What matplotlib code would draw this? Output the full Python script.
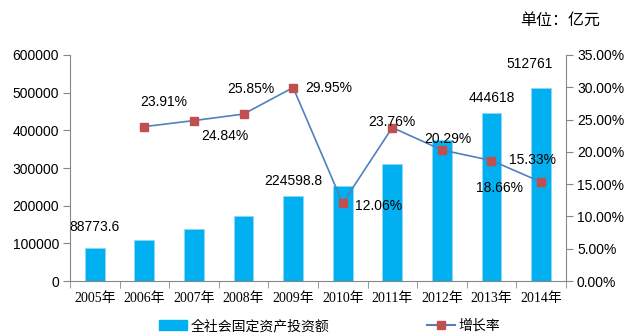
import matplotlib
matplotlib.use("Agg")
import matplotlib.pyplot as plt
from matplotlib.lines import Line2D
from matplotlib.patches import Patch
from matplotlib.ticker import FuncFormatter, FixedLocator

plt.rcParams['font.family'] = ['Liberation Sans', 'Noto Sans CJK SC']

years = ["2005年", "2006年", "2007年", "2008年", "2009年",
         "2010年", "2011年", "2012年", "2013年", "2014年"]
investment = [88773.6, 109998.2, 137323.9, 172828.4, 224598.8,
              251683.8, 311485.1, 374694.7, 444618, 512761]
growth = [None, 23.91, 24.84, 25.85, 29.95, 12.06, 23.76, 20.29, 18.66, 15.33]

# which bars get a value label, and label offsets (points) for the growth line
bar_labels = {0: "88773.6", 4: "224598.8", 8: "444618", 9: "512761"}
bar_offsets = {0: (0, 10), 4: (0, 6), 8: (0, 6), 9: (-8, 12)}
line_offsets = [None, (14, 18), (22, -11), (5, 18), (26, 0), (26, -2),
                (0, 4), (4, 8), (6, -20), (-6, 16)]

bar_color = "#00B0F0"
line_color = "#4F81BD"
marker_color = "#C0504D"
axis_color = "#868686"

fig = plt.figure(figsize=(6.28, 3.35), dpi=100)
ax = fig.add_axes([0.1115, 0.161, 0.7895, 0.675])
ax2 = ax.twinx()

x = list(range(len(years)))
ax.bar(x, investment, width=0.4, color=bar_color, edgecolor="#8FD8F5", linewidth=0.6, zorder=2)
ax.set_ylim(0, 600000)
ax.set_xlim(-0.5, len(years) - 0.5)
ax.set_yticks(range(0, 600001, 100000))

for i, txt in bar_labels.items():
    ax.annotate(txt, (i, investment[i]), xytext=bar_offsets[i], textcoords="offset points",
                ha="center", va="bottom", fontsize=10)

gx = [i for i, g in enumerate(growth) if g is not None]
gy = [g for g in growth if g is not None]
ax2.plot(gx, gy, color=line_color, linewidth=1.2, marker="s", markersize=6,
         markerfacecolor=marker_color, markeredgecolor=marker_color, zorder=3)
ax2.set_ylim(0, 35)
ax2.set_yticks([0, 5, 10, 15, 20, 25, 30, 35])
ax2.yaxis.set_major_formatter(FuncFormatter(lambda v, _: f"{v:.2f}%"))
for i in gx:
    ax2.annotate(f"{growth[i]:.2f}%", (i, growth[i]), xytext=line_offsets[i],
                 textcoords="offset points", ha="center", va="center", fontsize=10, zorder=4)

# category labels without ticks, separator ticks between categories
ax.set_xticks(x)
ax.set_xticklabels(years, family=['Liberation Serif', 'Noto Sans CJK SC'], fontsize=10)
ax.tick_params(axis="x", which="major", length=0, pad=8)
ax.xaxis.set_minor_locator(FixedLocator([i - 0.5 for i in range(len(years) + 1)]))
ax.tick_params(axis="x", which="minor", length=5, color=axis_color, direction="out")

for a in (ax, ax2):
    a.spines["top"].set_visible(False)
    for side in ("left", "right", "bottom"):
        a.spines[side].set_color(axis_color)
    a.tick_params(axis="y", length=5, color=axis_color, labelsize=10, pad=3)
ax2.spines["left"].set_visible(False)
ax.spines["right"].set_visible(False)
ax2.spines["bottom"].set_visible(False)

fig.text(0.955, 0.94, "单位：亿元", ha="right", va="center", fontsize=11.5,
         family=['Noto Sans CJK SC'])

handles = [Patch(facecolor=bar_color, edgecolor=bar_color),
           Line2D([0], [0], color=line_color, marker="s", markersize=6,
                  markerfacecolor=marker_color, markeredgecolor=marker_color)]
fig.legend(handles, ["全社会固定资产投资额", "增长率"], loc="center", ncol=2,
           bbox_to_anchor=(0.525, 0.027), frameon=False, columnspacing=7.0,
           handlelength=2.0, handletextpad=0.3, borderpad=0.1,
           prop={'family': ['Noto Sans CJK SC'], 'size': 10})

fig.savefig("out.png", dpi=100)
